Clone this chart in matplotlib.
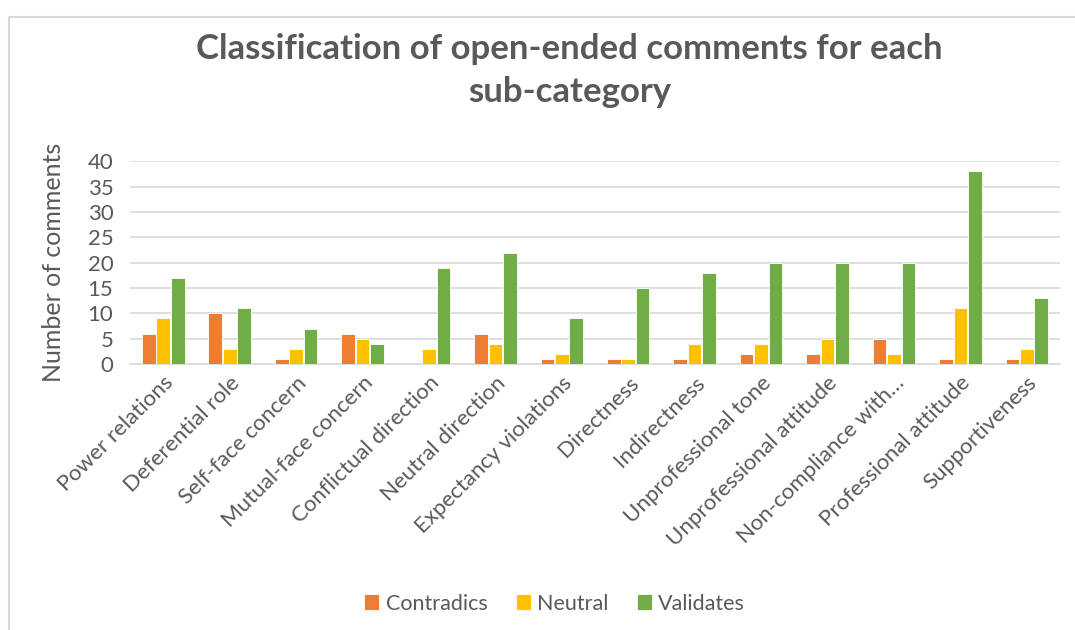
import matplotlib.pyplot as plt
import numpy as np
from matplotlib.patches import Rectangle

# Данные: подкатегории и число комментариев
categories = ["Power relations", "Deferential role", "Self-face concern",
              "Mutual-face concern", "Conflictual direction", "Neutral direction",
              "Expectancy violations", "Directness", "Indirectness",
              "Unprofessional tone", "Unprofessional attitude",
              "Non-compliance with…", "Professional attitude", "Supportiveness"]
contradics = [6, 10, 1, 6, 0, 6, 1, 1, 1, 2, 2, 5, 1, 1]
neutral = [9, 3, 3, 5, 3, 4, 2, 1, 4, 4, 5, 2, 11, 3]
validates = [17, 11, 7, 4, 19, 22, 9, 15, 18, 20, 20, 20, 38, 13]

plt.rcParams["font.family"] = ["Lato", "DejaVu Sans"]
text_color = "#595959"

fig = plt.figure(figsize=(10.75, 6.3), dpi=100)
ax = fig.add_axes([0.121, 0.422, 0.865, 0.322])

# Рамка вокруг диаграммы
fig.patches.append(Rectangle((9 / 1075, -0.1), 1.2, 1 - 16.5 / 630 + 0.1,
                             transform=fig.transFigure, fill=False,
                             edgecolor="#D9D9D9", linewidth=1.5))

x = np.arange(len(categories))
w = 0.205
series = [("Contradics", contradics, "#ED7D31"),
          ("Neutral", neutral, "#FFC000"),
          ("Validates", validates, "#70AD47")]
for i, (name, vals, col) in enumerate(series):
    ax.bar(x + (i - 1) * (w + 0.012), vals, w, color=col, label=name,
           edgecolor="white", linewidth=0.6, zorder=3)

ax.set_xlim(-0.5, len(categories) - 0.5)
ax.set_ylim(0, 40)
ax.set_yticks(range(0, 41, 5))
ax.grid(axis="y", color="#D9D9D9", linewidth=1.2, zorder=0)
for s in ["top", "right", "left"]:
    ax.spines[s].set_visible(False)
ax.spines["bottom"].set_color("#D9D9D9")
ax.spines["bottom"].set_linewidth(1.2)
ax.tick_params(axis="both", length=0, colors=text_color, labelsize=16)
ax.tick_params(axis="y", pad=12)
ax.tick_params(axis="x", pad=6)
ax.set_xticks(x)
ax.set_xticklabels(categories, rotation=45, ha="right", rotation_mode="anchor")

ax.set_ylabel("Number of comments", fontsize=18, color=text_color, labelpad=16)

fig.text(0.53, 0.888, "Classification of open-ended comments for each\nsub-category",
         ha="center", va="center", fontsize=25, fontweight="bold",
         color=text_color, linespacing=1.45)

fig.legend(loc="center", bbox_to_anchor=(0.516, 0.042), ncol=3, frameon=False,
           fontsize=15.5, labelcolor=text_color, handlelength=0.7,
           handleheight=0.7, handletextpad=0.3, columnspacing=1.3)

fig.savefig("out.png", dpi=100)
